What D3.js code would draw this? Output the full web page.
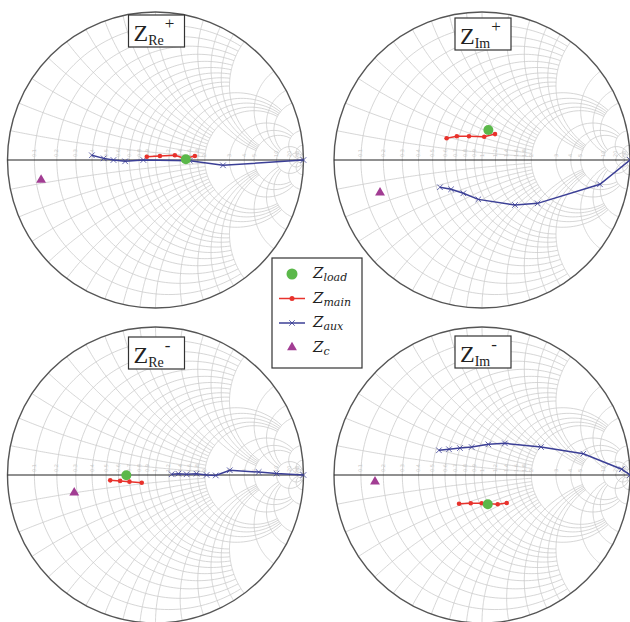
<!DOCTYPE html>
<html>
<head>
<meta charset="UTF-8">
<style>
    body { margin: 0; background: #fff; }
    .grid { fill: none; stroke: #cbcbcb; stroke-width: 0.8; }
    .tick { font-family: "DejaVu Sans", sans-serif; font-size: 5px; fill: #c4c4c4; }
    .title { font-family: "Liberation Serif", "DejaVu Serif", serif; fill: #222; }
    .leg { font-family: "DejaVu Serif", "Liberation Serif", serif; font-style: italic; fill: #222; }
</style>
</head>
<body>
<svg></svg>
<script src="https://d3js.org/d3.v7.min.js"></script>
<script>

let width = 630, height = 622;

// panels: Z_Re+, Z_Im+, Z_Re-, Z_Im-
const panelSub = ["Re", "Im", "Re", "Im"];
const panelSup = ["+", "+", "-", "-"];

// reflection coefficients (re, im)
const zLoad = [[0.205, 0.005], [0.043, 0.203], [-0.197, -0.002], [0.039, -0.198]];
const zC = [[-0.773, -0.135], [-0.689, -0.221], [-0.549, -0.119], [-0.723, -0.045]];
const zMain = [
    [[-0.059, 0.022], [0.03, 0.027], [0.131, 0.032], [0.199, 0.011], [0.266, 0.027]],
    [[-0.239, 0.147], [-0.17, 0.16], [-0.088, 0.16], [0.015, 0.157], [0.088, 0.175]],
    [[-0.306, -0.036], [-0.239, -0.04], [-0.176, -0.045], [-0.093, -0.052]],
    [[-0.155, -0.194], [-0.076, -0.191], [-0.002, -0.191], [0.106, -0.198], [0.167, -0.189]]
];
const zAux = [
    [[-0.43, 0.032], [-0.35, 0.011], [-0.284, 0], [-0.205, -0.009], [-0.082, 0], [0.232, -0.005], [0.456, -0.036], [1.0, 0]],
    [[-0.284, -0.184], [-0.209, -0.198], [-0.126, -0.225], [-0.025, -0.266], [0.223, -0.304], [0.376, -0.293], [0.797, -0.164], [1.0, 0]],
    [[0.109, 0.005], [0.154, 0.009], [0.21, 0.005], [0.277, 0.009], [0.345, 0], [0.407, -0.003], [0.502, 0.032], [0.697, 0.02], [0.818, 0.01], [1.0, 0]],
    [[-0.291, 0.167], [-0.223, 0.174], [-0.149, 0.182], [-0.07, 0.189], [0.043, 0.207], [0.155, 0.214], [0.399, 0.189], [0.685, 0.144], [0.944, 0.039], [1.0, 0]]
];

// smith grid values and the limit each band is drawn to
const gridBands = [
    { values: [0.1, 0.2, 0.3, 0.4, 0.5, 0.6, 0.7, 0.8, 0.9, 1.0], limit: 2 },
    { values: [1.2, 1.4, 1.6, 1.8, 2.0], limit: 5 },
    { values: [3, 4, 5], limit: 10 },
    { values: [10, 20], limit: 50 },
    { values: [50], limit: 1000 }
];
const tickValues = [0.1, 0.2, 0.3, 0.4, 0.5, 0.6, 0.7, 0.8, 0.9, 1.0, 1.2, 1.4, 1.6, 1.8, 2.0, 3, 4, 5, 10, 20, 50];

const legendItems = [
    { name: "load", type: "load" },
    { name: "main", type: "main" },
    { name: "aux", type: "aux" },
    { name: "c", type: "c" }
];

const colors = { load: "#5bb84a", main: "#e8322c", aux: "#3b3f96", c: "#a23d93" };

let svg = d3.select("svg")
    .attr("width", width)
    .attr("height", height);

const centers = [[155.5, 160], [482, 160], [155.5, 475], [482, 475]];
const boxTop = [15, 18, 337, 336];
const R = 148;

let x = d3.scaleLinear().domain([-1, 1]).range([-R, R]);
let y = d3.scaleLinear().domain([-1, 1]).range([R, -R]);

function gamma(r, xx) {
    let d = (r + 1) * (r + 1) + xx * xx;
    return [(r * r + xx * xx - 1) / d, 2 * xx / d];
}

let line = d3.line().x(d => x(d[0])).y(d => y(d[1]));

function resistancePath(r, L) {
    let a = Math.atan(L), pts = [];
    for (let i = 0; i <= 160; i++) {
        let t = -a + 2 * a * i / 160;
        pts.push(gamma(r, Math.tan(t)));
    }
    return line(pts);
}

function reactancePath(xx, L) {
    let a = Math.atan(L), pts = [];
    for (let i = 0; i <= 120; i++) {
        let t = a * i / 120;
        pts.push(gamma(Math.tan(t), xx));
    }
    return line(pts);
}

let cross = d3.symbol().type(d3.symbolX).size(22);
let tri = d3.symbol().type(d3.symbolTriangle).size(42);

centers.forEach((c, k) => {
    let g = svg.append("g").attr("transform", `translate(${c[0]},${c[1]})`);

    g.append("clipPath").attr("id", "clip" + k)
        .append("circle").attr("r", R);

    let grid = g.append("g").attr("clip-path", `url(#clip${k})`);
    gridBands.forEach(b => {
        b.values.forEach(v => {
            grid.append("path").attr("class", "grid").attr("d", resistancePath(v, b.limit));
            grid.append("path").attr("class", "grid").attr("d", reactancePath(v, b.limit));
            grid.append("path").attr("class", "grid").attr("d", reactancePath(-v, b.limit));
        });
    });

    g.selectAll("text.tick")
        .data(tickValues)
        .join("text")
        .attr("class", "tick")
        .attr("transform", d => `translate(${x(gamma(d, 0)[0]) + 1.5},-3) rotate(-90)`)
        .text(d => d);

    g.append("circle").attr("r", R)
        .attr("fill", "none").attr("stroke", "#555").attr("stroke-width", 1.4);
    g.append("line")
        .attr("x1", x(-1)).attr("x2", x(1))
        .attr("y1", y(0)).attr("y2", y(0))
        .attr("stroke", "#222").attr("stroke-width", 1.2);

    // aux
    g.append("path").attr("d", line(zAux[k]))
        .attr("fill", "none").attr("stroke", colors.aux).attr("stroke-width", 1.5);
    g.selectAll("path.auxm").data(zAux[k]).join("path")
        .attr("class", "auxm")
        .attr("d", cross)
        .attr("transform", d => `translate(${x(d[0])},${y(d[1])})`)
        .attr("fill", colors.aux).attr("stroke", colors.aux).attr("stroke-width", 0.8);

    // main
    g.append("path").attr("d", line(zMain[k]))
        .attr("fill", "none").attr("stroke", colors.main).attr("stroke-width", 1.5);
    g.selectAll("circle.mainm").data(zMain[k]).join("circle")
        .attr("class", "mainm")
        .attr("cx", d => x(d[0])).attr("cy", d => y(d[1]))
        .attr("r", 2.3)
        .attr("fill", colors.main);

    // load
    g.append("circle")
        .attr("cx", x(zLoad[k][0])).attr("cy", y(zLoad[k][1]))
        .attr("r", 5).attr("fill", colors.load);

    // Zc
    g.append("path").attr("d", tri)
        .attr("transform", `translate(${x(zC[k][0])},${y(zC[k][1])})`)
        .attr("fill", colors.c);

    // title box
    let bx = c[0] - 27, by = boxTop[k];
    svg.append("rect")
        .attr("x", bx).attr("y", by).attr("width", 56).attr("height", 32)
        .attr("fill", "#fff").attr("stroke", "#333").attr("stroke-width", 1.2);
    let t = svg.append("text").attr("class", "title")
        .attr("x", bx + 5).attr("y", by + 26);
    t.append("tspan").attr("font-size", 24).text("Z");
    t.append("tspan").attr("font-size", 14).attr("dy", 4).text(panelSub[k]);
    t.append("tspan").attr("font-size", 17).attr("dy", -16).attr("dx", 1).text(panelSup[k]);
});

// legend
let lg = svg.append("g");
lg.append("rect")
    .attr("x", 272).attr("y", 258).attr("width", 90).attr("height", 110)
    .attr("fill", "#fff").attr("stroke", "#333").attr("stroke-width", 1.2);

legendItems.forEach((d, i) => {
    let yy = 274 + i * 24.5, mx = 292;
    if (d.type == "load") {
        lg.append("circle").attr("cx", mx).attr("cy", yy).attr("r", 5.5).attr("fill", colors.load);
    } else if (d.type == "main") {
        lg.append("line").attr("x1", mx - 13).attr("x2", mx + 13).attr("y1", yy).attr("y2", yy)
            .attr("stroke", colors.main).attr("stroke-width", 1.5);
        lg.append("circle").attr("cx", mx).attr("cy", yy).attr("r", 2.5).attr("fill", colors.main);
    } else if (d.type == "aux") {
        lg.append("line").attr("x1", mx - 13).attr("x2", mx + 13).attr("y1", yy).attr("y2", yy)
            .attr("stroke", colors.aux).attr("stroke-width", 1.5);
        lg.append("path").attr("d", cross).attr("transform", `translate(${mx},${yy})`)
            .attr("fill", colors.aux).attr("stroke", colors.aux).attr("stroke-width", 0.8);
    } else {
        lg.append("path").attr("d", tri).attr("transform", `translate(${mx},${yy})`)
            .attr("fill", colors.c);
    }
    let t = lg.append("text").attr("class", "leg").attr("x", 313).attr("y", yy + 4);
    t.append("tspan").attr("font-size", 15).text("Z");
    t.append("tspan").attr("font-size", 11).attr("dy", 3).text(d.name);
});

</script>
</body>
</html>
